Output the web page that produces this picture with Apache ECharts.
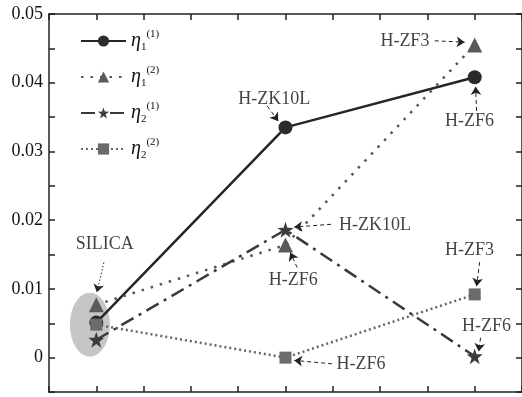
<!DOCTYPE html>
<html><head><meta charset="utf-8">
<script src="https://cdn.jsdelivr.net/npm/echarts@6/dist/echarts.min.js"></script>
<style>html,body{margin:0;padding:0;background:#fff}#c{width:522px;height:397px}</style>
</head><body><div id="c"></div>
<script>
// categories (glass types) at x = 0, 1, 2
const categories = ['SILICA', 'H-ZK10L', 'H-ZF6/H-ZF3'];
const seriesNames = ['η1(1)', 'η1(2)', 'η2(1)', 'η2(2)'];
const eta1_1 = [0.0051, 0.0335, 0.0408];
const eta1_2 = [0.0077, 0.0164, 0.0455];
const eta2_1 = [0.0026, 0.0186, 0.0002];
const eta2_2 = [0.0048, 0.0000, 0.0092];
const yTickLabels = ['0', '0.01', '0.02', '0.03', '0.04', '0.05'];
// annotation texts [x, y, text]
const noteTexts = [
  [0.045, 0.0165, 'SILICA'],
  [0.941, 0.0376, 'H-ZK10L'],
  [1.631, 0.0461, 'H-ZF3'],
  [1.973, 0.0344, 'H-ZF6'],
  [1.473, 0.0192, 'H-ZK10L'],
  [1.041, 0.0112, 'H-ZF6'],
  [1.399, -0.0009, 'H-ZF6'],
  [1.973, 0.0156, 'H-ZF3'],
  [2.063, 0.0045, 'H-ZF6']
];
// annotation arrows [[x1,y1],[x2,y2]]
const noteArrows = [
  [[0.040, 0.01385], [0.003, 0.0095]],
  [[0.904, 0.0366], [0.962, 0.0344]],
  [[1.789, 0.0461], [1.947, 0.0459]],
  [[2.010, 0.0359], [2.005, 0.0394]],
  [[1.241, 0.0194], [1.046, 0.0190]],
  [[1.062, 0.0131], [1.025, 0.0153]],
  [[1.246, -0.0009], [1.046, -0.0004]],
  [[2.026, 0.0139], [2.010, 0.0104]],
  [[2.031, 0.0029], [2.021, 0.0009]]
];
// grey ellipse around the SILICA points
const ellipseCenter = [[-0.034, 0.0048]];

const xs = [0, 1, 2];
const pair = arr => arr.map((v, i) => [xs[i], v]);
const serif = 'Liberation Serif, Times New Roman, serif';

const chart = echarts.init(document.getElementById('c'), null, {renderer: 'canvas'});
const xBase = {
  type: 'value', min: -0.25, max: 2.25, interval: 0.25,
  axisLine: {show: true, onZero: false, lineStyle: {color: '#222', width: 1.5}},
  axisTick: {show: true, inside: true, length: 6, lineStyle: {color: '#222', width: 1.5}},
  axisLabel: {show: false}, splitLine: {show: false}
};
const yBase = {
  type: 'value', min: -0.005, max: 0.05, interval: 0.005,
  axisLine: {show: true, onZero: false, lineStyle: {color: '#222', width: 1.5}},
  axisTick: {show: true, inside: true, length: 6, lineStyle: {color: '#222', width: 1.5}},
  splitLine: {show: false}
};
function legendFmt(name) {
  const m = name.match(/η(\d)\((\d)\)/);
  return '{e|η}{b|' + m[1] + '}{t|(' + m[2] + ')}';
}
chart.setOption({
  animation: false,
  grid: {left: 49, right: -1, top: 14, bottom: 5},
  xAxis: [Object.assign({position: 'bottom'}, xBase), Object.assign({position: 'top'}, xBase)],
  yAxis: [
    Object.assign({position: 'left', axisLabel: {show: true, color: '#111', fontFamily: serif, fontSize: 18, margin: 6,
      formatter: v => { const k = Math.round(v * 1000); if (k < 0 || k % 10 !== 0) return ''; return yTickLabels[k / 10]; }}}, yBase),
    Object.assign({position: 'right', axisLabel: {show: false}}, yBase)
  ],
  legend: {
    data: seriesNames, orient: 'vertical', left: 75, top: 24, itemWidth: 45, itemHeight: 14, itemGap: 12,
    formatter: legendFmt,
    textStyle: {
      color: '#111', fontFamily: serif,
      rich: {
        e: {fontSize: 20, fontStyle: 'italic', fontFamily: serif, color: '#111', verticalAlign: 'middle', lineHeight: 24},
        b: {fontSize: 11, fontFamily: serif, color: '#111', verticalAlign: 'bottom', lineHeight: 24},
        t: {fontSize: 11, fontFamily: serif, color: '#111', verticalAlign: 'top', lineHeight: 24}
      }
    }
  },
  series: [
    {type: 'scatter', name: 'ellipse', data: ellipseCenter, symbol: 'circle', symbolSize: [40, 64],
     itemStyle: {color: '#c6c6c6', opacity: 1}, z: 1, silent: true},
    {type: 'line', name: seriesNames[0], data: pair(eta1_1), symbol: 'circle', symbolSize: 14,
     lineStyle: {color: '#262626', width: 2.5, type: 'solid'}, itemStyle: {color: '#2b2b2b'}, z: 3},
    {type: 'line', name: seriesNames[1], data: pair(eta1_2), symbol: 'triangle', symbolSize: 15,
     lineStyle: {color: '#555', width: 2.5, type: [2.5, 7]}, itemStyle: {color: '#5a5a5a'}, z: 3},
    {type: 'line', name: seriesNames[2], data: pair(eta2_1), symbol: 'path://M50,0 L61.8,35.1 L98.9,35.5 L69.1,57.6 L80.3,93.1 L50,71.6 L19.7,93.1 L30.9,57.6 L1.1,35.5 L38.2,35.1 Z', symbolSize: 16,
     lineStyle: {color: '#3a3a3a', width: 2.5, type: [14, 6, 3, 6]}, itemStyle: {color: '#3c3c3c'}, z: 3},
    {type: 'line', name: seriesNames[3], data: pair(eta2_2), symbol: 'rect', symbolSize: 12,
     lineStyle: {color: '#666', width: 2.5, type: [2, 3]}, itemStyle: {color: '#6b6b6b'}, z: 3},
    {type: 'scatter', name: 'notes', data: noteTexts, symbolSize: 0, silent: true, z: 5,
     label: {show: true, position: 'inside', formatter: p => p.data[2], color: '#111', fontFamily: serif, fontSize: 18}},
    {type: 'lines', name: 'arrows', coordinateSystem: 'cartesian2d', silent: true, z: 5,
     symbol: ['none', 'arrow'], symbolSize: 8,
     lineStyle: {color: '#222', width: 1, type: [4, 3], opacity: 1},
     data: noteArrows.map((c, i) => i === 0 ? {coords: c, lineStyle: {type: [1.5, 2]}} : {coords: c})}
  ]
});
</script></body></html>
